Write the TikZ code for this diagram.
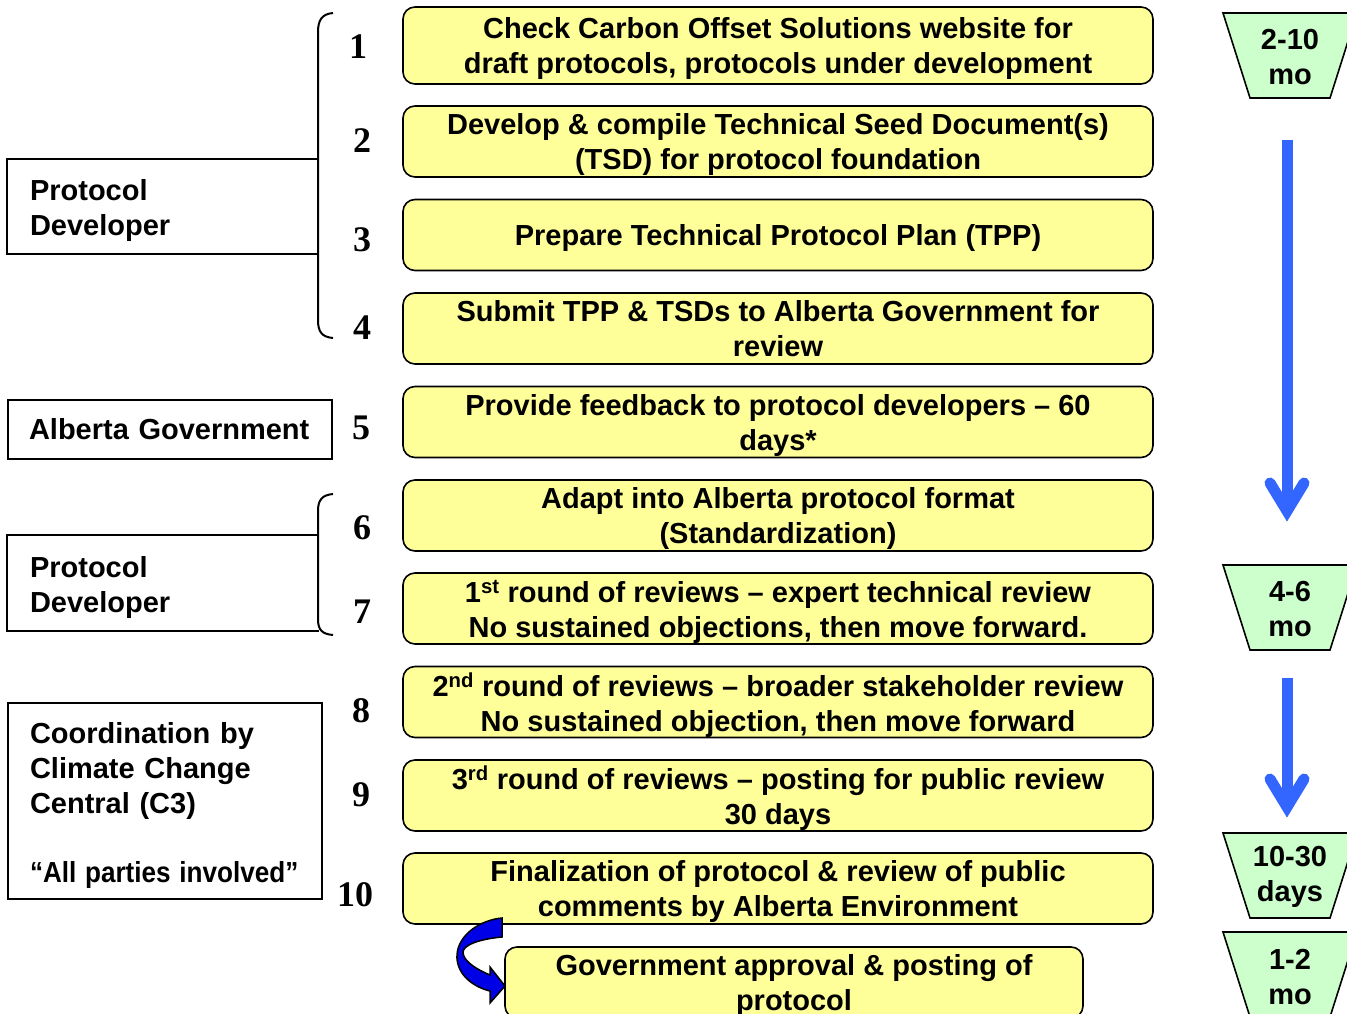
\documentclass[tikz,border=0pt]{standalone}
\usepackage{fontspec}
\setmainfont{Liberation Sans}
\newfontfamily\numfont{Liberation Serif}
\usetikzlibrary{calc}
\definecolor{boxyellow}{HTML}{FFFF99}
\definecolor{timegreen}{HTML}{CCFFCC}
\definecolor{flowblue}{HTML}{3366FF}
\definecolor{turnblue}{HTML}{0000E6}

\begin{document}
\begin{tikzpicture}[x=1pt, y=-1pt, font={\fontsize{29}{35}\selectfont\bfseries}, line width=2pt]

\tikzset{
  stepbox/.style={draw, fill=boxyellow, rounded corners=12pt, line width=1.6pt, minimum width=750pt, minimum height=71pt, align=center, inner sep=2pt, text depth=0pt},
  stepnum/.style={font={\numfont\fontsize{36}{36}\selectfont\bfseries}},
  party/.style={minimum height=93pt, text width=266pt, inner xsep=22pt, align=left},
  timebox/.style={draw, fill=timegreen, line width=1.6pt},
  timetext/.style={align=center},
  flow/.style={draw=flowblue, line width=11pt},
  brace/.style={line width=2pt}
}

\useasboundingbox (0,0) rectangle (1347,1014);
\clip (0,0) rectangle (1347,1014);

% Parties
\node[party, text depth=33pt] (dev1) at (163,206.5) {Protocol\\Developer};
\draw (dev1.north east) -- (dev1.north west) -- (dev1.south west) -- (dev1.south east);
\draw[brace] (333,13) .. controls (322,14) and (318,20) .. (318,32) -- (318,320) .. controls (318,332) and (322,337) .. (333,338);

\node[party, draw, minimum height=59pt, text width=282pt, inner xsep=21pt] (gov) at (170,429.5) {Alberta Government};

\node[party, minimum height=94pt, text depth=33pt] (dev2) at (163,583) {Protocol\\Developer};
\draw (dev2.north east) -- (dev2.north west) -- (dev2.south west) -- (dev2.south east);
\draw[brace] (333,494) .. controls (322,495) and (318,500) .. (318,511) -- (318,619) .. controls (318,630) and (322,634) .. (333,635);

\node[party, draw, minimum height=196pt, text width=270pt, text depth=136pt] (c3) at (165,801) {Coordination by\\Climate Change\\Central (C3)\\[34pt]\scalebox{0.9}[1]{“All parties involved”}};

% Steps
\node[stepbox, minimum height=77pt] (step1) at (778,45.5) {Check Carbon Offset Solutions website for\\draft protocols, protocols under development};
\node[stepbox] (step2) at (778,141.5) {Develop \& compile Technical Seed Document(s)\\(TSD) for protocol foundation};
\node[stepbox] (step3) at (778,235) {Prepare Technical Protocol Plan (TPP)};
\node[stepbox] (step4) at (778,328.5) {Submit TPP \& TSDs to Alberta Government for\\review};
\node[stepbox] (step5) at (778,422) {Provide feedback to protocol developers -- 60\\days*};
\node[stepbox] (step6) at (778,515.5) {Adapt into Alberta protocol format\\(Standardization)};
\node[stepbox] (step7) at (778,608.5) {1\textsuperscript{st} round of reviews -- expert technical review\\No sustained objections, then move forward.};
\node[stepbox] (step8) at (778,702) {2\textsuperscript{nd} round of reviews -- broader stakeholder review\\No sustained objection, then move forward};
\node[stepbox] (step9) at (778,795.5) {3\textsuperscript{rd} round of reviews -- posting for public review\\30 days};
\node[stepbox] (step10) at (778,888.5) {Finalization of protocol \& review of public\\comments by Alberta Environment};
\node[stepbox, minimum width=578pt] (step11) at (794,982.5) {Government approval \& posting of\\protocol};

% Numbers
\node[stepnum] (num1) at (358,47) {1};
\node[stepnum] (num2) at (362,141) {2};
\node[stepnum] (num3) at (362,240) {3};
\node[stepnum] (num4) at (362,328) {4};
\node[stepnum] (num5) at (361,428) {5};
\node[stepnum] (num6) at (362,528) {6};
\node[stepnum] (num7) at (362,612) {7};
\node[stepnum] (num8) at (361,711) {8};
\node[stepnum] (num9) at (361,795) {9};
\node[stepnum] (num10) at (355,895) {10};

% Turn arrow
\filldraw[fill=turnblue, draw=black, line width=1.5pt] (502,918) -- (502,937) .. controls (480,939) and (462,945) .. (463,953) .. controls (464,962) and (478,970) .. (490,975) -- (490,967) -- (505,986) -- (490,1003) -- (490,991) .. controls (470,986) and (456,972) .. (457,955) .. controls (458,935) and (480,920) .. (502,918) -- cycle;

% Durations
\draw[timebox] (1223,13) -- (1357,13) -- (1330,98) -- (1250,98) -- cycle;
\node[timetext] (time1) at (1290,57) {2-10\\mo};
\draw[timebox] (1223,565) -- (1357,565) -- (1330,650) -- (1250,650) -- cycle;
\node[timetext] (time2) at (1290,609) {4-6\\mo};
\draw[timebox] (1223,833) -- (1357,833) -- (1330,918) -- (1250,918) -- cycle;
\node[timetext] (time3) at (1290,877) {10-30\\days};
\draw[timebox] (1223,932) -- (1357,932) -- (1330,1017) -- (1250,1017) -- cycle;
\node[timetext] (time4) at (1290,977) {1-2\\mo};

% Flow arrows
\coordinate (flow1top) at (1287,140);
\coordinate (flow1tip) at (1287,511);
\draw[flow] (flow1top) -- (flow1tip);
\draw[flow, line cap=round] ($(flow1tip)+(-17,-28)$) -- (flow1tip) -- ($(flow1tip)+(17,-28)$);

\coordinate (flow2top) at (1287,678);
\coordinate (flow2tip) at (1287,807);
\draw[flow] (flow2top) -- (flow2tip);
\draw[flow, line cap=round] ($(flow2tip)+(-17,-28)$) -- (flow2tip) -- ($(flow2tip)+(17,-28)$);

\end{tikzpicture}
\end{document}
